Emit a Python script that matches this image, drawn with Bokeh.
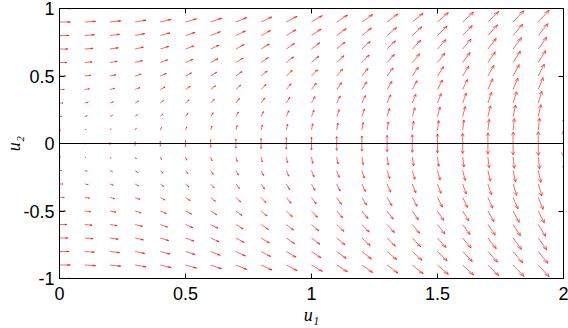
from bokeh.plotting import figure
from bokeh.models import Range1d, FixedTicker, LinearAxis, Span
from bokeh.embed import file_html
from bokeh.resources import INLINE

# grid of the quiver plot
u1_vals = [0.0, 0.1, 0.2, 0.3, 0.4, 0.5, 0.6, 0.7, 0.8, 0.9, 1.0,
           1.1, 1.2, 1.3, 1.4, 1.5, 1.6, 1.7, 1.8, 1.9, 2.0]
u2_vals = [-1.0, -0.9, -0.8, -0.7, -0.6, -0.5, -0.4, -0.3, -0.2, -0.1, 0.0,
           0.1, 0.2, 0.3, 0.4, 0.5, 0.6, 0.7, 0.8, 0.9, 1.0]

# arrow components (axis units)
# horizontal component, one value per u2 row
du1_by_row = [0.048, 0.043, 0.038, 0.033, 0.029, 0.024, 0.019, 0.014, 0.010, 0.005, 0.0,
              0.005, 0.010, 0.014, 0.019, 0.024, 0.029, 0.033, 0.038, 0.043, 0.048]
# vertical magnitude, one value per u1 column (sign follows u2; both at u2 = 0)
du2_by_col = [0.0, 0.005, 0.009, 0.014, 0.019, 0.023, 0.028, 0.033, 0.037, 0.042, 0.047,
              0.051, 0.056, 0.060, 0.065, 0.070, 0.074, 0.079, 0.084, 0.088, 0.093]

x_ticks = [0, 0.5, 1, 1.5, 2]
x_tick_labels = ["0", "0.5", "1", "1.5", "2"]
y_ticks = [-1, -0.5, 0, 0.5, 1]
y_tick_labels = ["-1", "-0.5", "0", "0.5", "1"]
x_title = "u\u2081"
y_title = "u\u2082"

alpha, beta = 0.28, 0.3
shaft_xs, shaft_ys, head_xs, head_ys = [], [], [], []
for i, y0 in enumerate(u2_vals):
    signs = [1, -1] if y0 == 0 else [1 if y0 > 0 else -1]
    for s in signs:
        for j, x0 in enumerate(u1_vals):
            du = du1_by_row[i]
            dv = s * du2_by_col[j]
            if du == 0 and dv == 0:
                continue
            tx, ty = x0 + du, y0 + dv
            shaft_xs.append([x0, tx])
            shaft_ys.append([y0, ty])
            head_xs.append([tx - alpha * (du + beta * dv), tx, tx - alpha * (du - beta * dv)])
            head_ys.append([ty - alpha * (dv - beta * du), ty, ty - alpha * (dv + beta * du)])

p = figure(width=568, height=328, x_range=Range1d(0, 2), y_range=Range1d(-1, 1),
           output_backend="svg", toolbar_location=None,
           min_border_left=59, min_border_right=5, min_border_top=8, min_border_bottom=50)
p.grid.visible = False
p.outline_line_color = "black"
p.background_fill_color = "white"
p.border_fill_color = "white"

p.add_layout(Span(location=0, dimension="width", line_color="black", line_width=1))
p.multi_line(shaft_xs, shaft_ys, line_color="#ff0000", line_width=0.6)
p.multi_line(head_xs, head_ys, line_color="#ff0000", line_width=0.6)

tick_font = "Liberation Sans"
for ax, ticks, labels in ((p.xaxis[0], x_ticks, x_tick_labels), (p.yaxis[0], y_ticks, y_tick_labels)):
    ax.ticker = FixedTicker(ticks=ticks)
    ax.major_label_overrides = {t: l for t, l in zip(ticks, labels)}
    ax.major_tick_in = 5
    ax.major_tick_out = 0
    ax.minor_tick_line_color = None
    ax.axis_line_color = "black"
    ax.major_tick_line_color = "black"
    ax.major_label_text_font = tick_font
    ax.major_label_text_font_size = "18px"
    ax.major_label_text_color = "black"
    ax.axis_label_text_font = "Liberation Serif"
    ax.axis_label_text_font_style = "italic"
    ax.axis_label_text_font_size = "18px"
    ax.axis_label_text_color = "black"

p.xaxis[0].major_label_standoff = 8
p.xaxis[0].axis_label = x_title
p.xaxis[0].axis_label_standoff = 2
p.yaxis[0].major_label_standoff = 5
p.yaxis[0].axis_label = y_title
p.yaxis[0].axis_label_standoff = -4

# box ticks on top and right
for loc, ticks in (("above", x_ticks), ("right", y_ticks)):
    ax = LinearAxis(ticker=FixedTicker(ticks=ticks), major_tick_in=5, major_tick_out=0,
                    minor_tick_line_color=None, major_label_text_font_size="0px",
                    major_label_standoff=0, axis_line_color="black")
    ax.major_label_overrides = {t: "" for t in ticks}
    p.add_layout(ax, loc)

open("out.html", "w").write(file_html(p, INLINE))
